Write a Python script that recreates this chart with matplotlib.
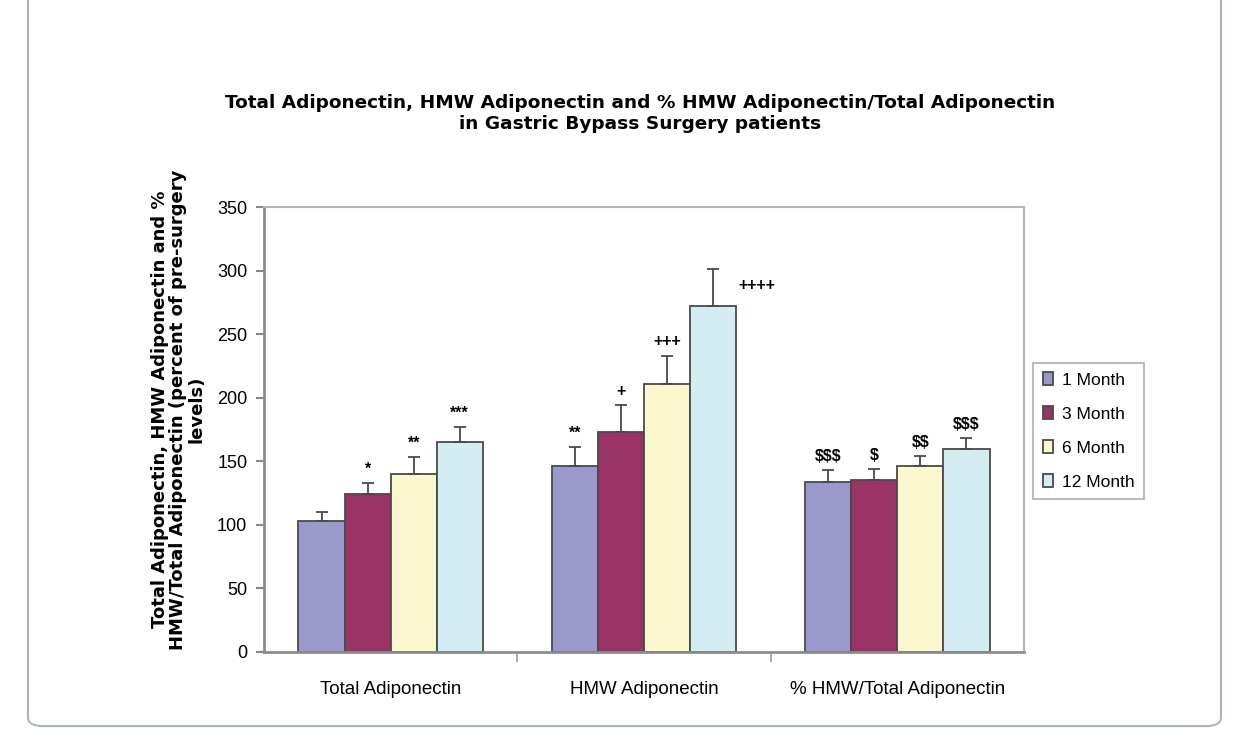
import matplotlib
matplotlib.use("Agg")
import matplotlib.pyplot as plt
import numpy as np
from matplotlib.patches import FancyBboxPatch

categories = ["Total Adiponectin", "HMW Adiponectin", "% HMW/Total Adiponectin"]
series = ["1 Month", "3 Month", "6 Month", "12 Month"]
means = {
    "1 Month":  [103, 146, 134],
    "3 Month":  [124, 173, 135],
    "6 Month":  [140, 211, 146],
    "12 Month": [165, 272, 160],
}
errors = {
    "1 Month":  [7, 15, 9],
    "3 Month":  [9, 21, 9],
    "6 Month":  [13, 22, 8],
    "12 Month": [12, 29, 8],
}
marks = {
    "1 Month":  ["", "**", "$$$"],
    "3 Month":  ["*", "+", "$"],
    "6 Month":  ["**", "+++", "$$"],
    "12 Month": ["***", "++++", "$$$"],
}
yticks = [0, 50, 100, 150, 200, 250, 300, 350]

colors = ["#9B98CC", "#993365", "#FBF8D0", "#D4EDF3"]

base = "Liberation Sans"

fig = plt.figure(figsize=(12.48, 7.29), dpi=100)
ax = fig.add_axes([264/1248, 1-652/729, (1024-264)/1248, (652-207)/729])

# frame around figure
frame = FancyBboxPatch((28/1248, 0.004), (1221-28)/1248, 1.1, boxstyle="round,pad=0,rounding_size=0.012",
                       transform=fig.transFigure, fill=False, edgecolor="#A9B4C2", linewidth=1.5,
                       clip_on=False)
fig.patches.append(frame)

x = np.arange(len(categories))
bw = 0.182
offs = (np.arange(len(series)) - 1.5) * bw
for i, s in enumerate(series):
    xs = x + offs[i]
    ax.bar(xs, means[s], width=bw, color=colors[i], edgecolor="#4a4a4a", linewidth=1.3, label=s, zorder=2)
    ax.errorbar(xs, means[s], yerr=[np.zeros(3), errors[s]], fmt="none", ecolor="#4a4a4a",
                elinewidth=1.3, capsize=4, capthick=1.3, zorder=3)
    for j in range(3):
        m = marks[s][j]
        if not m:
            continue
        top = means[s][j] + errors[s][j]
        if m == "++++":
            ax.text(xs[j] + bw*0.55, means[s][j] + 10, m, ha="left", va="bottom",
                    fontsize=11.5, fontweight="bold", family=base, parse_math=False)
        else:
            ax.text(xs[j], top + 5, m, ha="center", va="bottom", fontsize=11.5,
                    fontweight="bold", family=base, parse_math=False)

ax.set_xlim(-0.5, 2.5)
ax.set_ylim(0, 350)
ax.set_yticks(yticks)
ax.set_yticklabels([str(v) for v in yticks], family=base, fontsize=13)
ax.tick_params(axis="y", direction="out", length=6, color="#888888", width=1.5, pad=6)
ax.set_xticks(x)
ax.set_xticklabels(categories, family=base, fontsize=13.5)
ax.tick_params(axis="x", which="major", length=0, pad=21)
ax.set_xticks([0.5, 1.5], minor=True)
ax.tick_params(axis="x", which="minor", direction="out", length=7, color="#999999", width=1.2)
for side in ["left", "bottom"]:
    ax.spines[side].set_color("#8c8c8c")
    ax.spines[side].set_linewidth(2)
for side in ["top", "right"]:
    ax.spines[side].set_color("#b5b5b5")
    ax.spines[side].set_linewidth(1.5)

ax.set_ylabel("Total Adiponectin, HMW Adiponectin and %\nHMW/Total Adiponectin (percent of pre-surgery\nlevels)",
              family="DejaVu Sans", fontweight="bold", fontsize=13, labelpad=8, linespacing=1.05)
ax.yaxis.label.set_y(0.545)

fig.text(640/1248, 1-103/729, "Total Adiponectin, HMW Adiponectin and % HMW Adiponectin/Total Adiponectin",
         ha="center", va="center", family="DejaVu Sans", fontweight="bold", fontsize=13.3)
fig.text(640/1248, 1-124/729, "in Gastric Bypass Surgery patients",
         ha="center", va="center", family="DejaVu Sans", fontweight="bold", fontsize=13.3)

leg = ax.legend(loc="center left", bbox_to_anchor=(1.012, 0.497), borderaxespad=0, frameon=True,
                fancybox=False, prop={"family": base, "size": 12.5}, handlelength=0.6, handleheight=0.8,
                handletextpad=0.5, labelspacing=1.05, borderpad=0.55)
leg.get_frame().set_edgecolor("#999999")
leg.get_frame().set_linewidth(1.2)

fig.savefig("out.png", dpi=100)
